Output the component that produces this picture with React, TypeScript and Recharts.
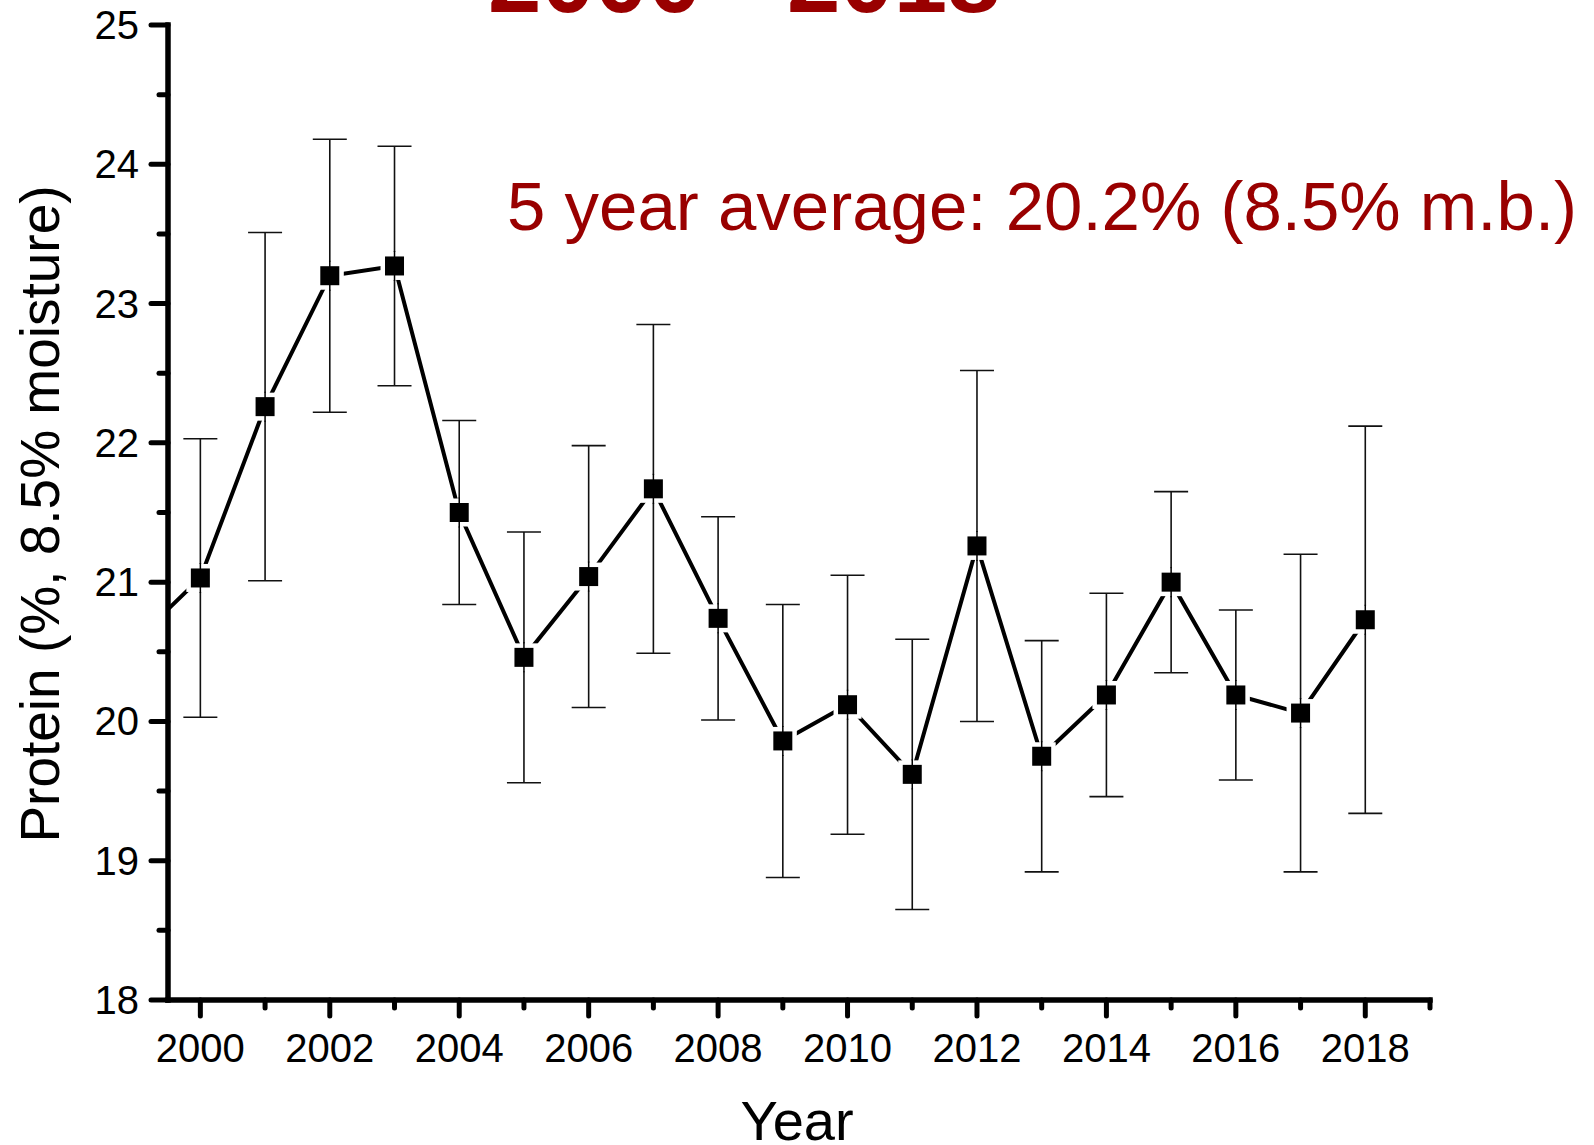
import React from 'react';
import { LineChart, Line, XAxis, YAxis, ErrorBar } from 'recharts';

// 1999 is just outside the axis; only its segment into 2000 shows
const years = [1999, 2000, 2001, 2002, 2003, 2004, 2005, 2006, 2007, 2008, 2009, 2010, 2011, 2012, 2013, 2014, 2015, 2016, 2017, 2018];
const protein = [20.58, 21.03, 22.26, 23.2, 23.27, 21.5, 20.46, 21.04, 21.67, 20.74, 19.86, 20.12, 19.62, 21.26, 19.75, 20.19, 21.0, 20.19, 20.06, 20.73];
const errors = [0, 1.0, 1.25, 0.98, 0.86, 0.66, 0.9, 0.94, 1.18, 0.73, 0.98, 0.93, 0.97, 1.26, 0.83, 0.73, 0.65, 0.61, 1.14, 1.39];

const xTicks = [2000, 2001, 2002, 2003, 2004, 2005, 2006, 2007, 2008, 2009, 2010, 2011, 2012, 2013, 2014, 2015, 2016, 2017, 2018, 2019];
const yTicks = [18, 18.5, 19, 19.5, 20, 20.5, 21, 21.5, 22, 22.5, 23, 23.5, 24, 24.5, 25];

const title = '2000 - 2018';
const note = '5 year average: 20.2% (8.5% m.b.)';

const font = '"Liberation Sans", Arial, sans-serif';
const red = '#990000';

const data = years.map((year, i) => ({
  year,
  protein: protein[i],
  err: year < 2000 ? undefined : errors[i],
}));

function XTick(props: any) {
  const { x, y, payload } = props;
  const v = payload.value;
  const major = v % 2 === 0;
  return (
    <g>
      <line x1={x} x2={x} y1={y} y2={y + (major ? 16 : 8)} stroke="#000" strokeWidth={5} strokeLinecap="round" />
      {major && (
        <text x={x} y={y + 62} textAnchor="middle" fontSize={40} fontFamily={font} fill="#000">
          {v}
        </text>
      )}
    </g>
  );
}

function YTick(props: any) {
  const { x, y, payload } = props;
  const v = payload.value;
  const major = Number.isInteger(v);
  return (
    <g>
      <line x1={x} x2={x - (major ? 17 : 9)} y1={y} y2={y} stroke="#000" strokeWidth={5} strokeLinecap="round" />
      {major && (
        <text x={x - 29} y={y + 14} textAnchor="end" fontSize={40} fontFamily={font} fill="#000">
          {v}
        </text>
      )}
    </g>
  );
}

function SquareDot(props: any) {
  const { cx, cy, payload } = props;
  if (payload.year < 2000 || cx == null || cy == null) return <g key={`d-${payload.year}`} />;
  return (
    <g key={`d-${payload.year}`}>
      <rect x={cx - 14} y={cy - 14} width={28} height={28} fill="#fff" />
      <line x1={cx} x2={cx} y1={cy - 15} y2={cy + 15} stroke="#000" strokeWidth={1.5} />
      <rect x={cx - 9.5} y={cy - 9.5} width={19} height={19} fill="#000" />
    </g>
  );
}

export default function App() {
  return (
    <div style={{ position: 'absolute', left: 0, top: 0, width: 1594, height: 1145, background: '#fff' }}>
      <LineChart width={1594} height={1145} data={data} margin={{ top: 25, right: 164, bottom: 0, left: 0 }}>
        <XAxis
          dataKey="year"
          type="number"
          domain={[1999.5, 2019]}
          allowDataOverflow
          ticks={xTicks}
          interval={0}
          height={145}
          tickSize={0}
          tickMargin={0}
          tickLine={false}
          tick={<XTick />}
          axisLine={{ stroke: '#000', strokeWidth: 5.5, strokeLinecap: 'square' }}
        />
        <YAxis
          type="number"
          domain={[18, 25]}
          allowDataOverflow
          ticks={yTicks}
          interval={0}
          width={168}
          tickSize={0}
          tickMargin={0}
          tickLine={false}
          tick={<YTick />}
          axisLine={{ stroke: '#000', strokeWidth: 5.5, strokeLinecap: 'square' }}
        />
        <Line
          dataKey="protein"
          type="linear"
          stroke="#000"
          strokeWidth={4}
          dot={<SquareDot />}
          activeDot={false}
          isAnimationActive={false}
        >
          <ErrorBar dataKey="err" direction="y" width={17} stroke="#111" strokeWidth={1.6} isAnimationActive={false} />
        </Line>
      </LineChart>
      <svg width={1594} height={1145} style={{ position: 'absolute', left: 0, top: 0, pointerEvents: 'none' }}>
        <text x={488} y={12} fontSize={96} fontWeight="bold" fontFamily={font} fill={red}>
          {title}
        </text>
        <text x={507} y={230} fontSize={69} fontFamily={font} fill={red}>
          {note}
        </text>
        <text x={59} y={514} transform="rotate(-90 59 514)" textAnchor="middle" fontSize={55} fontFamily={font} fill="#000">
          Protein (%, 8.5% moisture)
        </text>
        <text x={797} y={1140} textAnchor="middle" fontSize={56} fontFamily={font} fill="#000">
          Year
        </text>
      </svg>
    </div>
  );
}
